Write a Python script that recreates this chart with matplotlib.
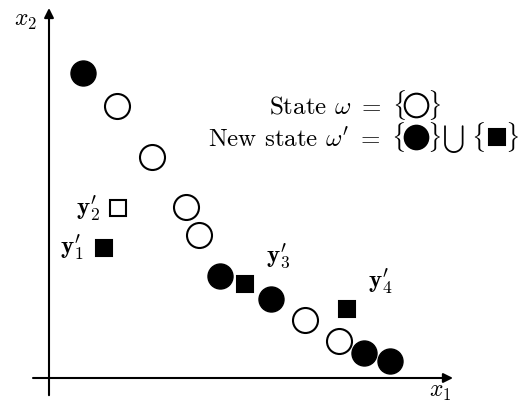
''' 状態 ω と新しい状態 ω' の点配置 '''
import matplotlib
matplotlib.use('Agg')
import matplotlib.pyplot as plt

plt.rcParams['mathtext.fontset'] = 'cm'
plt.rcParams['font.family'] = 'serif'
plt.rcParams['font.serif'] = ['cmr10']
plt.rcParams['axes.formatter.use_mathtext'] = True

# 現在の状態の点（白丸）
old_x = [1.70, 2.58, 3.43, 3.75, 6.40, 7.25]
old_y = [6.80, 5.53, 4.28, 3.58, 1.45, 0.93]

# 新しい状態に残る点（黒丸）
kept_x = [0.85, 4.28, 5.55, 7.88, 8.53]
kept_y = [7.63, 2.55, 1.98, 0.63, 0.43]

# 新しく生成された点 y'_1 .. y'_4
new_names = ["$\\mathbf{y}_1^{\\prime}$", "$\\mathbf{y}_2^{\\prime}$",
             "$\\mathbf{y}_3^{\\prime}$", "$\\mathbf{y}_4^{\\prime}$"]
new_x = [1.38, 1.73, 4.90, 7.45]
new_y = [3.25, 4.25, 2.35, 1.73]
new_filled = [True, False, True, True]

# ラベルの位置（点からのずれ，ポイント単位）
label_offset = [(-23, 0), (-22, -1), (24, 20), (24, 19)]

FS = 18


def main():
    fig = plt.figure(figsize=(5.18, 4.03), dpi=100)
    ax = fig.add_axes([0, 0, 1, 1])
    ax.set_xlim(-1.225, 11.725)
    ax.set_ylim(-0.625, 9.45)
    ax.axis('off')

    draw_axes(ax)

    ax.plot(old_x, old_y, 'o', ms=18, mfc='white', mec='black', mew=1.5)
    ax.plot(kept_x, kept_y, 'o', ms=18, mfc='black', mec='black')
    for name, x, y, filled, off in zip(new_names, new_x, new_y,
                                       new_filled, label_offset):
        ax.plot(x, y, 's', ms=12, mfc='black' if filled else 'white',
                mec='black', mew=1.5)
        ax.annotate(name, (x, y), xytext=off, textcoords='offset points',
                    ha='center', va='center', fontsize=FS)

    draw_legend(fig)
    fig.savefig('out.png', dpi=100)


def draw_axes(ax):
    arrow = dict(arrowstyle='-|>', lw=1.5, color='black', mutation_scale=14,
                 shrinkA=0, shrinkB=0)
    ax.annotate('', xy=(10.1, 0), xytext=(-0.4, 0), arrowprops=arrow)
    ax.annotate('', xy=(0, 9.25), xytext=(0, -0.43), arrowprops=arrow)
    ax.text(9.78, -0.36, '$x_1$', ha='center', va='center', fontsize=17)
    ax.text(-0.6, 8.92, '$x_2$', ha='center', va='center', fontsize=17)


def draw_legend(fig):
    W, H = 518, 403

    def fx(px):
        return px / W

    def fy(py):
        return 1 - py / H

    def marker(px, py, m, ms, face):
        fig.lines.append(plt.Line2D([fx(px)], [fy(py)], marker=m, ms=ms,
                                    mfc=face, mec='black', mew=1.5,
                                    transform=fig.transFigure))

    fig.text(fx(406), fy(105), 'State $\\omega\\ =\\ \\{$', ha='right',
             va='center', fontsize=FS)
    fig.text(fx(427), fy(105), '$\\}$', ha='left', va='center', fontsize=FS)
    marker(416, 105, 'o', 17, 'white')

    fig.text(fx(406), fy(137), "New state $\\omega^{\\prime}\\ =\\ \\{$",
             ha='right', va='center', fontsize=FS)
    fig.text(fx(427), fy(137), '$\\}$', ha='left', va='center', fontsize=FS)
    fig.text(fx(453), fy(139), '$\\bigcup$', ha='center', va='center',
             fontsize=14)
    fig.text(fx(471), fy(137), '$\\{$', ha='left', va='center', fontsize=FS)
    fig.text(fx(505), fy(137), '$\\}$', ha='left', va='center', fontsize=FS)
    marker(416, 137, 'o', 17, 'black')
    marker(496.5, 137, 's', 12, 'black')


if __name__ == "__main__":
    main()
